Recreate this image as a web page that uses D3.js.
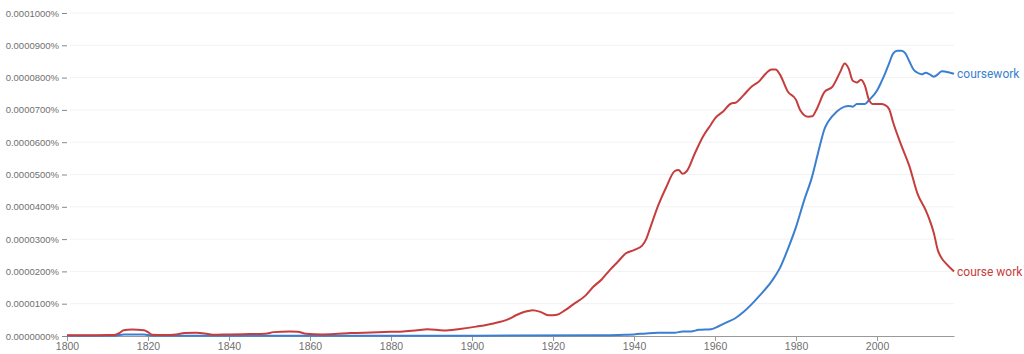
<!DOCTYPE html>
<html>
<head>
<meta charset="utf-8">
<script src="https://cdn.jsdelivr.net/npm/d3@7"></script>
<style>
  body { margin: 0; background: #fff; }
  svg { display: block; font-family: Roboto, "Noto Sans", sans-serif; }
  .tick text { fill: #707070; }
</style>
</head>
<body>
<div id="container"></div>
<script>
// values in percent
var courseWorkYears = [1800,1805,1810,1812,1813,1814,1816,1819,1820,1821,1824,1827,1829,1832,1834,1836,1840,1845,1849,1851,1855,1857,1859,1863,1866,1870,1875,1880,1883,1886,1889,1893,1897,1901,1905,1909,1911,1913,1915,1917,1919,1921,1923,1925,1928,1930,1932,1934,1936,1938,1940,1942,1943,1944,1946,1948,1950,1951,1952,1953,1955,1957,1959,1960,1962,1964,1965,1967,1969,1971,1972,1974,1975,1976,1978,1980,1981,1983,1984,1985,1987,1989,1991,1992,1993,1994,1995,1996,1997,1998,1999,2001,2002,2003,2004,2006,2008,2010,2012,2013,2014,2015,2016,2017,2019];
var courseWorkValues = [0.02,0.02,0.03,0.04,0.10,0.18,0.20,0.18,0.12,0.04,0.03,0.05,0.09,0.10,0.08,0.04,0.05,0.06,0.07,0.12,0.14,0.13,0.07,0.05,0.06,0.09,0.11,0.13,0.14,0.17,0.21,0.17,0.22,0.29,0.38,0.52,0.65,0.75,0.80,0.74,0.64,0.66,0.80,0.98,1.25,1.53,1.75,2.04,2.30,2.56,2.66,2.80,3.00,3.35,4.05,4.62,5.10,5.14,5.02,5.10,5.65,6.17,6.55,6.74,6.95,7.20,7.22,7.45,7.72,7.90,8.05,8.25,8.25,8.10,7.56,7.31,7.00,6.79,6.80,7.00,7.55,7.72,8.20,8.44,8.28,7.90,7.85,7.93,7.75,7.31,7.18,7.18,7.15,7.02,6.60,5.90,5.25,4.40,3.90,3.59,3.20,2.66,2.40,2.25,2.00].map(function(v){ return v * 1e-5; });

var courseworkYears = [1800,1812,1814,1819,1821,1850,1900,1930,1938,1940,1943,1946,1950,1952,1954,1956,1959,1961,1963,1965,1967,1969,1971,1974,1976,1978,1980,1982,1984,1985,1986,1987,1988,1990,1992,1993,1994,1995,1997,1998,2000,2001,2002,2003,2004,2005,2006,2007,2008,2009,2010,2011,2012,2013,2014,2015,2016,2017,2019];
var courseworkValues = [0.01,0.01,0.05,0.05,0.01,0.01,0.01,0.02,0.04,0.05,0.08,0.10,0.10,0.14,0.14,0.19,0.21,0.31,0.43,0.55,0.74,0.98,1.25,1.70,2.10,2.70,3.38,4.20,4.95,5.45,5.95,6.40,6.65,6.94,7.10,7.12,7.10,7.18,7.18,7.30,7.60,7.85,8.13,8.45,8.75,8.83,8.83,8.75,8.50,8.25,8.15,8.10,8.15,8.10,8.03,8.10,8.20,8.18,8.12].map(function(v){ return v * 1e-5; });

var xTicks = [1800,1820,1840,1860,1880,1900,1920,1940,1960,1980,2000];
var yTicks = [0,1e-5,2e-5,3e-5,4e-5,5e-5,6e-5,7e-5,8e-5,9e-5,1e-4];

var series = [
  { name: 'coursework', years: courseworkYears, values: courseworkValues, color: '#3b7fd0' },
  { name: 'course work', years: courseWorkYears, values: courseWorkValues, color: '#c63d3d' }
];

var width = 1024, height = 354;
var xScale = d3.scaleLinear().domain([1800, 2019]).range([67, 954]);
var yScale = d3.scaleLinear().domain([0, 1e-4]).range([336, 13]);

var svg = d3.select('#container').append('svg')
  .attr('width', width).attr('height', height);

// faint gridlines
svg.append('g').selectAll('line').data(yTicks.slice(1)).enter()
  .append('line')
  .attr('x1', 70).attr('x2', 954)
  .attr('y1', function(d){ return yScale(d); })
  .attr('y2', function(d){ return yScale(d); })
  .attr('stroke', '#f2f2f2');

var yAxis = svg.append('g')
  .attr('transform', 'translate(67,0)')
  .call(d3.axisLeft(yScale).tickValues(yTicks).tickSize(5).tickPadding(3)
    .tickFormat(function(d){ return d3.format('.7f')(d) + '%'; }));
yAxis.select('.domain').remove();
yAxis.selectAll('.tick line').attr('stroke', '#888');
yAxis.selectAll('.tick text').style('font-size', '9.5px');

var xAxis = svg.append('g')
  .attr('transform', 'translate(0,336)')
  .call(d3.axisBottom(xScale).tickValues(xTicks).tickSize(5).tickSizeOuter(0).tickPadding(2)
    .tickFormat(d3.format('d')));
xAxis.select('.domain').attr('stroke', '#999');
xAxis.selectAll('.tick line').attr('stroke', '#999');
xAxis.selectAll('.tick text').style('font-size', '10.5px');

var line = d3.line()
  .x(function(d){ return xScale(d[0]); })
  .y(function(d){ return yScale(d[1]); })
  .curve(d3.curveMonotoneX);

series.forEach(function(s){
  var pts = s.years.map(function(y, i){ return [y, s.values[i]]; });
  svg.append('path').datum(pts)
    .attr('d', line)
    .attr('fill', 'none')
    .attr('stroke', s.color)
    .attr('stroke-width', 2);
  var last = pts[pts.length - 1];
  svg.append('text')
    .attr('x', xScale(last[0]) + 3)
    .attr('y', yScale(last[1]))
    .attr('dy', '0.35em')
    .attr('fill', s.color)
    .style('font-size', '12px')
    .text(s.name);
});
</script>
</body>
</html>
